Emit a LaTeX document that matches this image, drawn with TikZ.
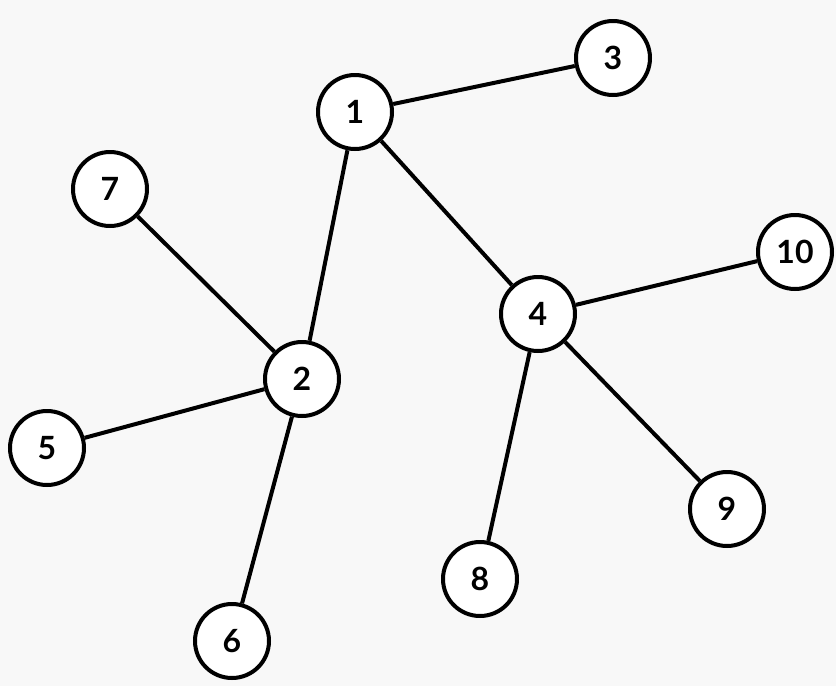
\documentclass[tikz,border=0pt]{standalone}
\usepackage{fontspec}
\newfontfamily\nodefont{Lato}[UprightFont=*-Bold]
\definecolor{bg}{HTML}{F8F8F8}
\newcommand\vtxfont{\nodefont\fontsize{32pt}{32pt}\selectfont}
\begin{document}
\begin{tikzpicture}[x=1pt,y=-1pt,
  vtx/.style={circle,draw=black,fill=white,line width=4pt,minimum size=74pt,inner sep=0pt,font=\vtxfont},
  edge/.style={line width=4pt,draw=black}]
\fill[bg] (0,0) rectangle (836,686);
\useasboundingbox (0,0) rectangle (836,686);
\node[vtx] (n1) at (355,112) {1};
\node[vtx] (n3) at (613,58) {3};
\node[vtx] (n7) at (110,189) {7};
\node[vtx] (n2) at (302,379) {2};
\node[vtx] (n5) at (47,448) {5};
\node[vtx] (n6) at (232,641) {6};
\node[vtx] (n4) at (538,314) {4};
\node[vtx] (n10) at (795,252) {10};
\node[vtx] (n9) at (727,509) {9};
\node[vtx] (n8) at (480,579) {8};
\draw[edge] (n1) -- (n3);
\draw[edge] (n1) -- (n2);
\draw[edge] (n1) -- (n4);
\draw[edge] (n2) -- (n7);
\draw[edge] (n2) -- (n5);
\draw[edge] (n2) -- (n6);
\draw[edge] (n4) -- (n10);
\draw[edge] (n4) -- (n9);
\draw[edge] (n4) -- (n8);
\end{tikzpicture}
\end{document}
